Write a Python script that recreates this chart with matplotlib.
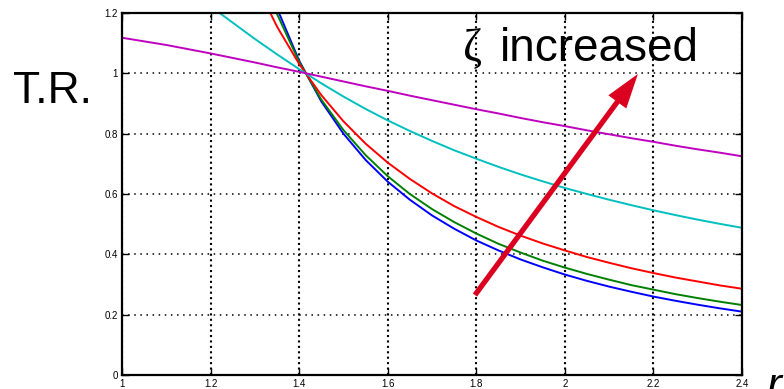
import matplotlib
matplotlib.use("Agg")
import matplotlib.pyplot as plt

# frequency ratio samples
r_all = [1.0, 1.05, 1.1, 1.15, 1.2, 1.25, 1.3, 1.35, 1.4, 1.45, 1.5, 1.55, 1.6, 1.65,
         1.7, 1.75, 1.8, 1.85, 1.9, 1.95, 2.0, 2.05, 2.1, 2.15, 2.2, 2.25, 2.3, 2.35, 2.4]
r_hi = r_all[5:]  # from 1.25

# transmissibility readings
tr_z0 = [1.778, 1.449, 1.216, 1.042, 0.907, 0.800, 0.713, 0.641, 0.581, 0.529, 0.485,
         0.446, 0.413, 0.383, 0.357, 0.333, 0.312, 0.293, 0.276, 0.260, 0.246, 0.233,
         0.221, 0.210]
tr_z01 = [1.675, 1.401, 1.197, 1.038, 0.913, 0.812, 0.729, 0.659, 0.600, 0.550, 0.507,
          0.469, 0.435, 0.406, 0.379, 0.356, 0.335, 0.316, 0.298, 0.283, 0.268, 0.255,
          0.243, 0.232]
tr_z02 = [1.486, 1.305, 1.155, 1.031, 0.928, 0.841, 0.767, 0.704, 0.650, 0.602, 0.560,
          0.524, 0.491, 0.462, 0.436, 0.413, 0.391, 0.372, 0.354, 0.338, 0.323, 0.310,
          0.297, 0.286]
tr_z05 = [1.414, 1.374, 1.328, 1.276, 1.222, 1.168, 1.114, 1.063, 1.014, 0.967, 0.923,
          0.882, 0.844, 0.809, 0.776, 0.745, 0.717, 0.690, 0.665, 0.642, 0.620, 0.600,
          0.581, 0.563, 0.546, 0.530, 0.515, 0.501, 0.488]
tr_z1 = [1.118, 1.106, 1.094, 1.080, 1.066, 1.051, 1.036, 1.020, 1.005, 0.989, 0.973,
         0.957, 0.942, 0.926, 0.911, 0.896, 0.881, 0.867, 0.852, 0.838, 0.825, 0.811,
         0.798, 0.785, 0.773, 0.760, 0.748, 0.737, 0.725]

xticks = [1, 1.2, 1.4, 1.6, 1.8, 2, 2.2, 2.4]
xticklabels = ["1", "1.2", "1.4", "1.6", "1.8", "2", "2.2", "2.4"]
yticks = [0, 0.2, 0.4, 0.6, 0.8, 1, 1.2]
yticklabels = ["0", "0.2", "0.4", "0.6", "0.8", "1", "1.2"]

plt.rcParams['font.family'] = ['Liberation Sans', 'DejaVu Sans']

fig = plt.figure(figsize=(7.84, 3.89), dpi=100)
ax = fig.add_axes([122/784, 1-375/389, 620/784, 362/389])

lw = 1.4
ax.plot(r_hi, tr_z0, color=(0, 0, 1), lw=lw)
ax.plot(r_hi, tr_z01, color=(0, 0.5, 0), lw=lw)
ax.plot(r_hi, tr_z02, color=(1, 0, 0), lw=lw)
ax.plot(r_all, tr_z05, color=(0, 0.75, 0.75), lw=lw)
ax.plot(r_all, tr_z1, color=(0.75, 0, 0.75), lw=lw)

ax.set_xlim(1, 2.4)
ax.set_ylim(0, 1.2)
ax.set_xticks(xticks)
ax.set_xticklabels(xticklabels)
ax.set_yticks(yticks)
ax.set_yticklabels(yticklabels)
ax.tick_params(direction='in', length=5, width=1, labelsize=7, pad=3,
               top=True, right=True, colors='black')
ax.set_axisbelow(True)
ax.xaxis.grid(True, color='black', linestyle=(0, (1, 1.6)), linewidth=1.5)
ax.yaxis.grid(True, color='black', linestyle=(0, (1, 3)), linewidth=1.1)
for s in ax.spines.values():
    s.set_linewidth(1.6)

ax.annotate("", xy=(2.165, 0.998), xytext=(1.797, 0.265),
            arrowprops=dict(arrowstyle="simple,head_length=25,head_width=16,tail_width=3.8",
                            mutation_scale=1, color=(0.86, 0.0, 0.12),
                            shrinkA=0, shrinkB=0, lw=0))

fig.text(13/784, (389-103)/389, "T.R.", fontsize=32, ha='left', va='baseline')
fig.text(463/784, (389-61)/389, "ζ", fontsize=33, ha='left', va='baseline',
         family=['Liberation Serif', 'DejaVu Serif'])
fig.text(500/784, (389-61)/389, "increased", fontsize=33, ha='left', va='baseline')
fig.text(766/784, (389-399)/389, "r", fontsize=32, ha='left', va='baseline',
         style='italic')

fig.savefig("out.png", dpi=100)
